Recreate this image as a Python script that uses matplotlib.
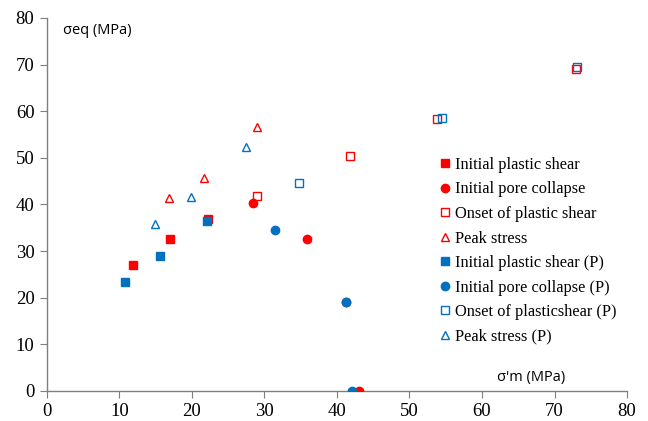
import matplotlib.pyplot as plt

# data (sigma'm, sigma_eq) in MPa
ips_x = [11.9, 16.9, 22.2]
ips_y = [27.0, 32.7, 36.8]
ipc_x = [28.4, 35.8, 41.3, 43.1]
ipc_y = [40.4, 32.5, 19.1, 0.0]
ons_x = [28.9, 41.8, 53.8, 73.0]
ons_y = [41.8, 50.5, 58.3, 69.0]
pk_x = [16.8, 21.7, 28.9]
pk_y = [41.3, 45.6, 56.7]

ips_p_x = [10.8, 15.6, 22.1]
ips_p_y = [23.3, 29.0, 36.4]
ipc_p_x = [31.4, 41.3, 42.1]
ipc_p_y = [34.6, 19.0, 0.0]
ons_p_x = [34.8, 54.5, 73.1]
ons_p_y = [44.6, 58.6, 69.4]
pk_p_x = [14.9, 19.9, 27.4]
pk_p_y = [35.9, 41.5, 52.3]

red = '#FF0000'
blue = '#0070C0'

fig = plt.figure(figsize=(6.48, 4.21), dpi=100)
ax = fig.add_axes([0.0725, 0.0713, 0.8951, 0.886])

ax.plot(ips_x, ips_y, 's', color=red, ms=6, label='Initial plastic shear')
ax.plot(ipc_x, ipc_y, 'o', color=red, ms=6, label='Initial pore collapse')
ax.plot(ons_x, ons_y, 's', mfc='none', mec=red, mew=1.0, ms=6, label='Onset of plastic shear')
ax.plot(pk_x, pk_y, '^', mfc='none', mec=red, mew=1.0, ms=6, label='Peak stress')
ax.plot(ips_p_x, ips_p_y, 's', color=blue, ms=6, label='Initial plastic shear (P)')
ax.plot(ipc_p_x, ipc_p_y, 'o', color=blue, ms=6, label='Initial pore collapse (P)')
ax.plot(ons_p_x, ons_p_y, 's', mfc='none', mec=blue, mew=1.0, ms=6, label='Onset of plasticshear (P)')
ax.plot(pk_p_x, pk_p_y, '^', mfc='none', mec=blue, mew=1.0, ms=6, label='Peak stress (P)')

ax.set_xlim(0, 80)
ax.set_ylim(0, 80)
ax.set_xticks(range(0, 81, 10))
ax.set_yticks(range(0, 81, 10))
for s in ['top', 'right']:
    ax.spines[s].set_visible(False)
for s in ['left', 'bottom']:
    ax.spines[s].set_color('#7f7f7f')
    ax.spines[s].set_linewidth(1.0)
    ax.spines[s].set_zorder(0)
ax.tick_params(direction='out', length=5, color='#7f7f7f', labelsize=13.5, pad=4,
               labelfontfamily='Liberation Serif')

# axis titles placed in figure pixels (from the top-left corner)
fig.text(63 / 648, 1 - 31 / 421, 'σeq (MPa)', fontsize=10.5, family='Open Sans',
         va='center', ha='left')
fig.text(497 / 648, 1 - 377 / 421, "σ'm (MPa)", fontsize=10.5, family='Open Sans',
         va='center', ha='left')

leg = ax.legend(loc='upper left', bbox_to_anchor=(0.667, 0.645), frameon=False,
                prop={'family': 'Liberation Serif', 'size': 11.8}, handlelength=0.6,
                handletextpad=0.3, labelspacing=0.52, borderaxespad=0)

fig.savefig('out.png', dpi=100)
